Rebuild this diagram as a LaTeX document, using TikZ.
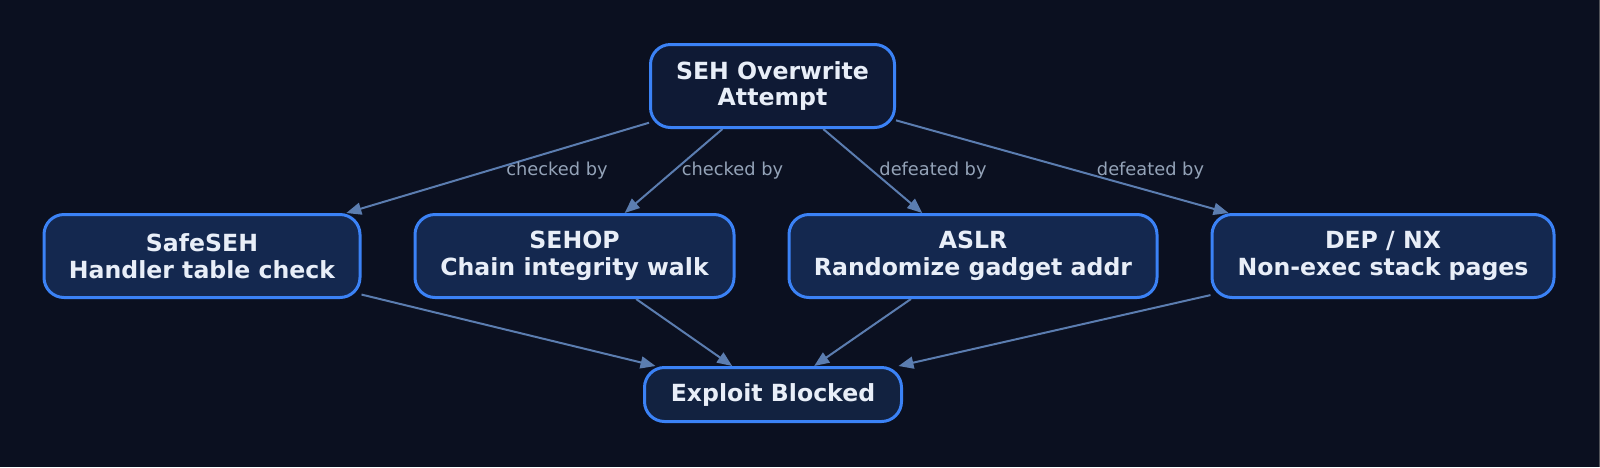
\documentclass[tikz,border=0pt]{standalone}
\usepackage{fontspec}
\setmainfont{DejaVu Sans}
\usepackage{xcolor}
\usepackage{tikz}
\usetikzlibrary{arrows.meta, positioning}

\definecolor{bgdark}{HTML}{0B1020}
\definecolor{topfill}{HTML}{0F1A35}
\definecolor{midfill}{HTML}{14284F}
\definecolor{endfill}{HTML}{122240}
\definecolor{boxline}{HTML}{3B82F6}
\definecolor{edgeline}{HTML}{5B7DB0}
\definecolor{lbltext}{HTML}{94A3B8}
\definecolor{boxtext}{HTML}{E8EEF8}

\begin{document}
\begin{tikzpicture}[
  x=0.5pt, y=-0.5pt,
  box/.style={rectangle, rounded corners=10pt, draw=boxline, line width=1.5pt,
    text=boxtext, align=center, minimum height=41.5pt, inner sep=2pt,
    font=\fontsize{11.8pt}{13.4pt}\selectfont\bfseries},
  lbl/.style={text=lbltext, inner sep=1pt, font=\fontsize{8.9pt}{10pt}\selectfont},
  arrow/.style={-{Triangle[length=7.5pt, width=6pt]}, draw=edgeline, line width=1pt},
  node distance=26pt
]

\useasboundingbox (0,0) rectangle (1600,467);
\fill[bgdark] (0,0) rectangle (1600,467);
\draw[gray!60!bgdark, line width=0.5pt] (1599,0) -- (1599,467);

\node[box, fill=topfill, minimum width=122pt] (seh) at (772.5,86) {SEH Overwrite\\Attempt};
\node[box, fill=midfill, minimum width=158pt] (safeseh) at (202,256) {SafeSEH\\Handler table check};
\node[box, fill=midfill, minimum width=159.5pt] (sehop) [right=of safeseh] {SEHOP\\Chain integrity walk};
\node[box, fill=midfill, minimum width=184pt] (aslr) [right=of sehop] {ASLR\\Randomize gadget addr};
\node[box, fill=midfill, minimum width=171pt] (dep) [right=of aslr] {DEP / NX\\Non-exec stack pages};
\node[box, fill=endfill, minimum width=128.5pt, minimum height=27pt] (blocked) at (773,394.5) {Exploit Blocked};

\draw[arrow] (seh) -- (safeseh);
\draw[arrow] (seh) -- (sehop);
\draw[arrow] (seh) -- (aslr);
\draw[arrow] (seh) -- (dep);
\draw[arrow] (safeseh) -- (blocked);
\draw[arrow] (sehop) -- (blocked);
\draw[arrow] (aslr) -- (blocked);
\draw[arrow] (dep) -- (blocked);

\node[lbl] (chk1) at (557,171) {checked by};
\node[lbl] (chk2) at (732.5,171) {checked by};
\node[lbl] (def1) at (933,171) {defeated by};
\node[lbl] (def2) at (1150.5,171) {defeated by};

\end{tikzpicture}
\end{document}
